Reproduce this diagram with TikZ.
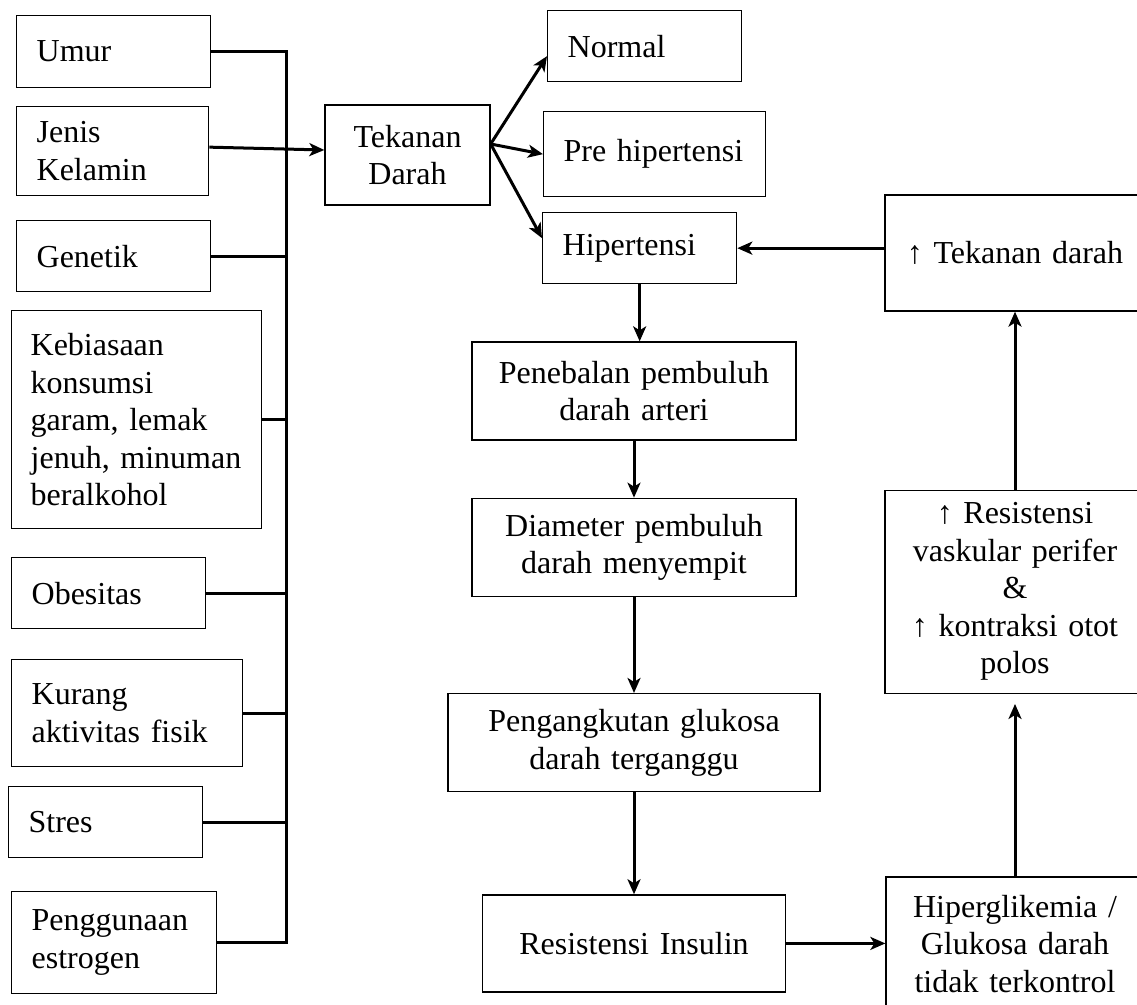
\documentclass[tikz,border=0pt]{standalone}
\usepackage{fontspec}
\setmainfont{Liberation Serif}
\usepackage{tikz}
\usetikzlibrary{positioning,arrows.meta}
\tikzset{
  box/.style={draw,line width=1.3pt,inner xsep=20pt,inner ysep=0pt,font=\fontsize{32}{37.5}\selectfont},
  lbox/.style={box,align=left,anchor=north west},
  cbox/.style={box,align=center,inner xsep=8pt},
  link/.style={line width=3pt},
  arr/.style={link,-{Stealth[length=15pt,width=13pt,inset=4pt]}}
}

\begin{document}
\begin{tikzpicture}[x=1pt,y=-1pt]
\useasboundingbox (0,0) rectangle (1137,1004);
\clip (0,0) rectangle (1137,1004);

\node[lbox, text width=154pt, minimum height=72pt] (umur) at (16,15) {Umur};
\node[lbox, text width=152pt, minimum height=89pt] (jenis) at (16,106) {Jenis\\Kelamin};
\node[lbox, text width=154pt, minimum height=71pt] (genetik) at (16,220) {Genetik};
\node[lbox, inner xsep=19pt, text width=212pt, minimum height=218pt] (kebiasaan) at (11,310) {Kebiasaan\\konsumsi\\garam, lemak\\jenuh,~minuman\\beralkohol};
\node[lbox, text width=154pt, minimum height=71pt] (obesitas) at (11,557) {Obesitas};
\node[lbox, text width=191pt, minimum height=107pt] (kurang) at (11,659) {Kurang\\aktivitas fisik};
\node[lbox, text width=154pt, minimum height=71pt] (stres) at (8,786) {Stres};
\node[lbox, text width=165pt, minimum height=102pt] (penggunaan) at (11,891) {Penggunaan\\estrogen};

\node[cbox, text width=149pt, minimum height=100pt] (td) at (407.5,155) {Tekanan\\Darah};

\node[lbox, text width=154pt, minimum height=71pt] (normal) at (547,10) {Normal};
\node[lbox, text width=182pt, minimum height=85pt] (pre) at (543,111) {Pre hipertensi};
\node[lbox, text width=154pt, minimum height=71pt] (hip) at (542,212) {Hipertensi};

\node[cbox, text width=308pt, minimum height=98pt] (pen) at (634,391) {Penebalan pembuluh\\darah arteri};
\node[cbox, text width=308pt, minimum height=98pt, below=57pt of pen] (dia) {Diameter pembuluh\\darah menyempit};
\node[cbox, text width=356pt, minimum height=98pt, below=96pt of dia] (peng) {Pengangkutan glukosa\\darah terganggu};
\node[cbox, text width=287pt, minimum height=97pt, below=102pt of peng] (resins) {Resistensi Insulin};

\node[cbox, text width=244pt, minimum height=116pt] (tdup) at (1015,253) {↑ Tekanan darah};
\node[cbox, text width=244pt, minimum height=203pt, below=178pt of tdup] (resv) {↑ Resistensi\\vaskular perifer\\\&\\↑ kontraksi otot\\polos};
\node[cbox, text width=242pt, minimum height=134pt] (hyp) at (1015,944) {Hiperglikemia /\\Glukosa darah\\tidak terkontrol};

\coordinate (bus) at (286,0);
\draw[link] (umur.east) -- (umur.east -| bus) |- (penggunaan.east);
\foreach \n in {genetik,kebiasaan,obesitas,kurang,stres}
  \draw[link] (\n.east) -- (\n.east -| bus);
\draw[arr] ([yshift=4pt]jenis.east) -- ([yshift=5pt]td.west);

\coordinate (fan) at ([yshift=11pt]td.east);
\draw[arr] (fan) -- ([yshift=-10pt]normal.west);
\draw[arr] (fan) -- (pre.west);
\draw[arr] (fan) -- ([yshift=10pt]hip.west);

\draw[arr] (hip.south) -- (hip.south |- pen.north);
\draw[arr] (pen) -- (dia);
\draw[arr] (dia) -- (peng);
\draw[arr] (peng) -- (resins);
\draw[arr] (resins.east) -- (resins.east -| hyp.west);
\draw[arr,shorten >=10pt] (hyp) -- (resv);
\draw[arr] (resv) -- (tdup);
\draw[arr] (hip.east -| tdup.west) -- (hip.east);
\end{tikzpicture}
\end{document}
